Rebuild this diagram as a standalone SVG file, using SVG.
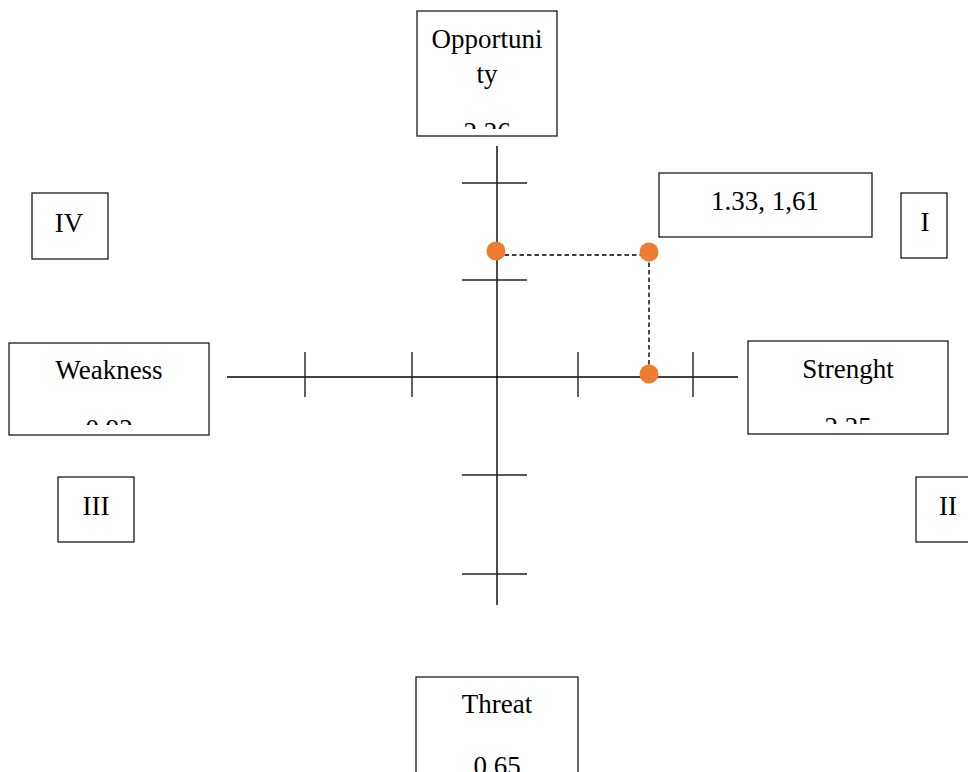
<svg xmlns="http://www.w3.org/2000/svg" width="968" height="772" viewBox="0 0 968 772">
<style>
.box{fill:#fff;stroke:#1a1a1a;stroke-width:1.3}
.t{font-family:"Liberation Serif","Times New Roman",serif;font-size:27px;fill:#000;text-anchor:middle}
.ax{stroke:#000;stroke-width:1.4;fill:none}
.tk{stroke:#222;stroke-width:1.4;fill:none}
.dash{stroke:#000;stroke-width:1.4;stroke-dasharray:4.5 3;fill:none}
.dot{fill:#ED7D31}
</style>
<defs>
<clipPath id="cO"><rect x="417" y="11" width="140" height="118"/></clipPath>
<clipPath id="cW"><rect x="9" y="343" width="200" height="82"/></clipPath>
<clipPath id="cS"><rect x="748" y="341" width="200" height="83"/></clipPath>
<clipPath id="cT"><rect x="416" y="677" width="162" height="95"/></clipPath>
</defs>
<rect width="968" height="772" fill="#fff"/>
<g id="connectors">
<line class="ax" x1="497" y1="146" x2="497" y2="605"/>
<line class="ax" x1="227" y1="377" x2="738" y2="377"/>
<line class="tk" x1="462" y1="183" x2="527" y2="183"/>
<line class="tk" x1="462" y1="280" x2="527" y2="280"/>
<line class="tk" x1="462" y1="475" x2="527" y2="475"/>
<line class="tk" x1="462" y1="574" x2="527" y2="574"/>
<line class="tk" x1="305" y1="352" x2="305" y2="397"/>
<line class="tk" x1="412" y1="352" x2="412" y2="397"/>
<line class="tk" x1="578" y1="352" x2="578" y2="397"/>
<line class="tk" x1="693" y1="352" x2="693" y2="397"/>
<line class="dash" x1="497" y1="255" x2="649" y2="255"/>
<line class="dash" x1="649" y1="255" x2="649" y2="374"/>
<circle class="dot" cx="496" cy="251" r="9.5"/>
<circle class="dot" cx="649" cy="252" r="9.5"/>
<circle class="dot" cx="649" cy="374" r="9.5"/>
</g>
<g id="opportunity">
<rect class="box" x="417" y="11" width="140" height="125"/>
<g clip-path="url(#cO)">
<text class="t" x="487" y="48">Opportuni</text>
<text class="t" x="487" y="83">ty</text>
<text class="t" x="487" y="141">2.26</text>
</g>
</g>
<g id="weakness">
<rect class="box" x="9" y="343" width="200" height="92"/>
<g clip-path="url(#cW)">
<text class="t" x="109" y="379">Weakness</text>
<text class="t" x="109" y="438">0.92</text>
</g>
</g>
<g id="strength">
<rect class="box" x="748" y="341" width="200" height="93"/>
<g clip-path="url(#cS)">
<text class="t" x="848" y="378">Strenght</text>
<text class="t" x="848" y="436">2.25</text>
</g>
</g>
<g id="threat">
<rect class="box" x="416" y="677" width="162" height="110"/>
<g clip-path="url(#cT)">
<text class="t" x="497" y="713">Threat</text>
<text class="t" x="497" y="775">0.65</text>
</g>
</g>
<g id="point">
<rect class="box" x="659" y="173" width="213" height="64"/>
<text class="t" x="765" y="210">1.33, 1,61</text>
</g>
<g id="q1">
<rect class="box" x="901" y="193" width="46" height="65"/>
<text class="t" x="925" y="231">I</text>
</g>
<g id="q2">
<rect class="box" x="916" y="477" width="64" height="65"/>
<text class="t" x="948" y="515">II</text>
</g>
<g id="q3">
<rect class="box" x="58" y="477" width="76" height="65"/>
<text class="t" x="96" y="515">III</text>
</g>
<g id="q4">
<rect class="box" x="32" y="193" width="76" height="66"/>
<text class="t" x="69" y="232">IV</text>
</g>
</svg>
